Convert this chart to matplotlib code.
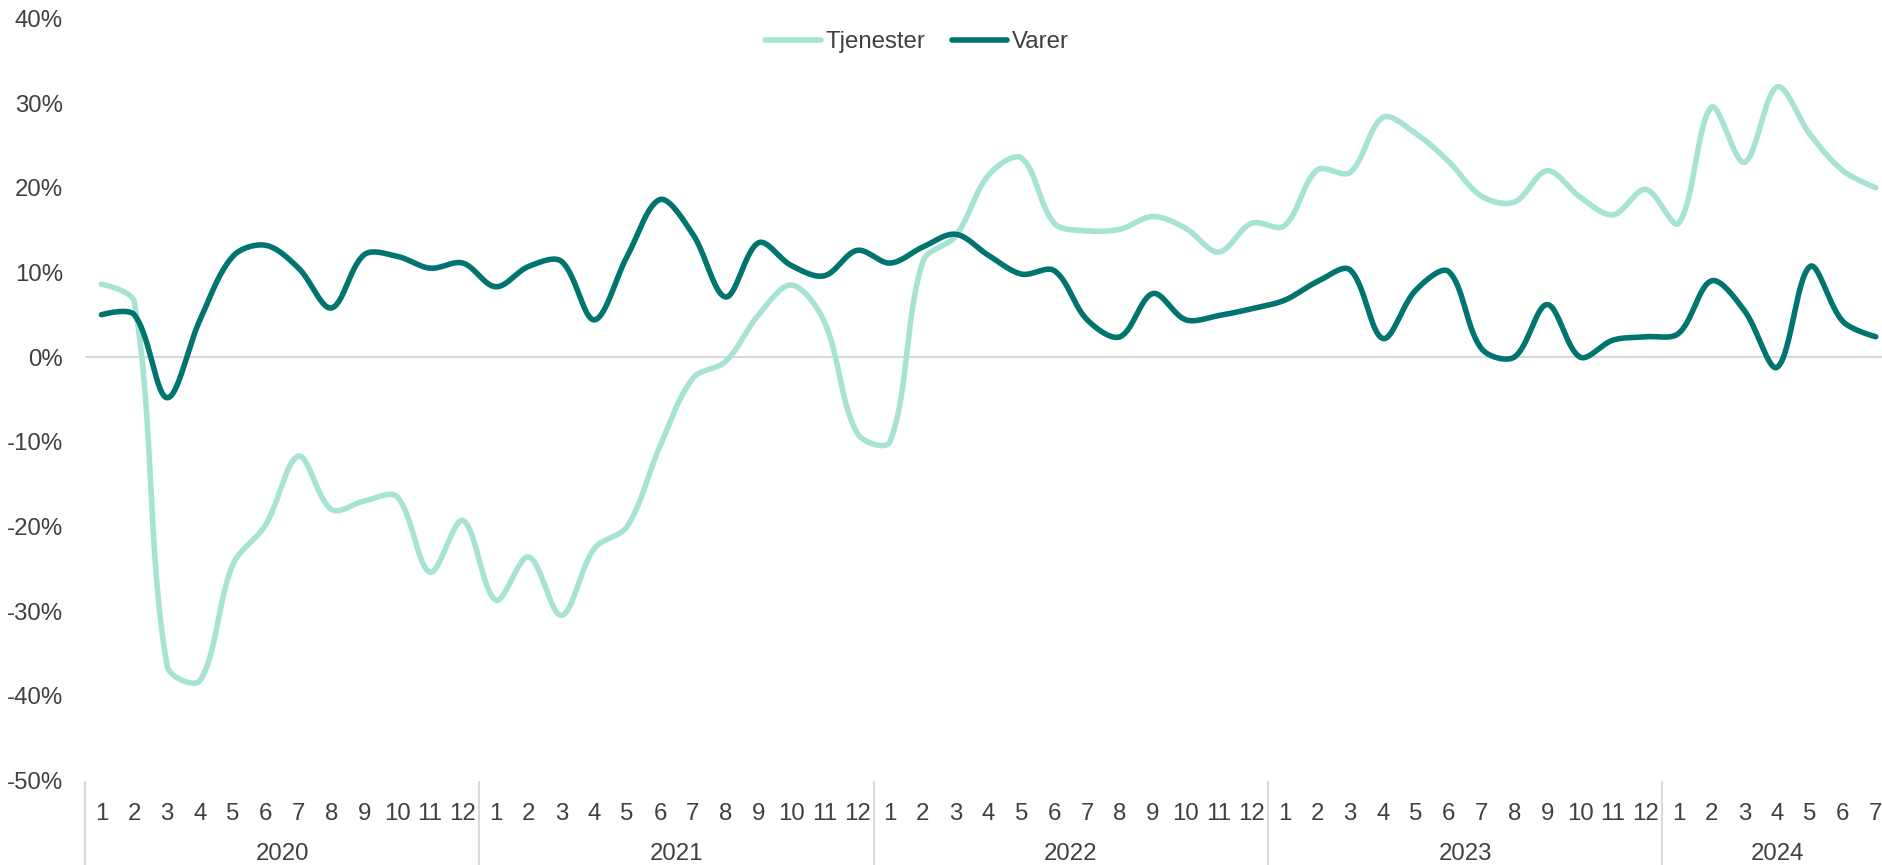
import numpy as np
import matplotlib
matplotlib.use("Agg")
import matplotlib.pyplot as plt
import matplotlib.transforms as mtransforms

plt.rcParams['font.family'] = ['Liberation Sans', 'DejaVu Sans']

# Data (% change), monthly 2020-1 .. 2024-7
years = ['2020', '2021', '2022', '2023', '2024']
months_per_year = [12, 12, 12, 12, 7]

tjenester = [8.6, 6.5, -36.5, -38.2, -24.5, -19.8, -11.7, -18.0, -17.0, -16.5, -25.4, -19.3,
             -28.7, -23.6, -30.5, -22.6, -20.0, -10.5, -2.5, -0.5, 5.0, 8.5, 4.2, -9.0,
             -10.0, 11.3, 14.3, 21.5, 23.5, 15.8, 14.9, 15.1, 16.6, 15.2, 12.4, 15.8,
             15.5, 22.1, 21.8, 28.3, 26.4, 23.1, 19.0, 18.3, 22.0, 18.9, 16.8, 19.8,
             15.8, 29.5, 23.0, 31.9, 26.3, 22.0, 20.0]
varer = [5.0, 5.0, -4.8, 4.4, 11.9, 13.2, 10.5, 5.8, 12.1, 11.9, 10.5, 11.1,
         8.3, 10.7, 11.3, 4.4, 11.9, 18.6, 14.5, 7.1, 13.5, 10.8, 9.6, 12.6,
         11.1, 13.0, 14.5, 12.0, 9.8, 10.2, 4.4, 2.4, 7.5, 4.4, 4.9, 5.7,
         6.7, 8.9, 10.3, 2.2, 7.9, 10.1, 1.0, 0.0, 6.2, 0.0, 2.0, 2.4,
         2.8, 9.0, 5.5, -1.2, 10.7, 4.2, 2.4]

month_labels = [str(m + 1) for n in months_per_year for m in range(n)]

TEXT = '#404040'
GRID = '#D9D9D9'
FS = 17.3


def smooth(y, yscale=0.258, n=30):
    # Excel-style smoothed line: bezier segments, control arms scaled by segment length
    P = np.column_stack([np.arange(len(y), dtype=float), np.asarray(y, float) * yscale])
    m = len(P)
    L = np.hypot(*np.diff(P, axis=0).T)
    fwd, bwd = P.copy(), P.copy()
    for i in range(1, m - 1):
        d = P[i + 1] - P[i - 1]
        lp, ln = L[i - 1], L[i]
        fwd[i] = P[i] + d * ln / (lp + ln) / 3
        bwd[i] = P[i] - d * lp / (lp + ln) / 3
    t = np.linspace(0, 1, n, endpoint=False)[:, None]
    pts = []
    for i in range(m - 1):
        p0, c1, c2, p3 = P[i], fwd[i], bwd[i + 1], P[i + 1]
        pts.append((1 - t) ** 3 * p0 + 3 * (1 - t) ** 2 * t * c1
                   + 3 * (1 - t) * t ** 2 * c2 + t ** 3 * p3)
    pts.append(P[-1:])
    pts = np.vstack(pts)
    return pts[:, 0], pts[:, 1] / yscale


fig = plt.figure(figsize=(18.83, 8.65), dpi=100)
ax = fig.add_axes([85 / 1883, 0.0977, 1 - 85 / 1883, 0.9788 - 0.0977])

ax.axhline(0, color=GRID, lw=1.5, zorder=1)

x1, y1 = smooth(tjenester)
x2, y2 = smooth(varer)
ax.plot(x1, y1, color='#A6E3D4', lw=4, solid_capstyle='round', label='Tjenester', zorder=2)
ax.plot(x2, y2, color='#00746F', lw=4, solid_capstyle='round', label='Varer', zorder=3)

ax.set_xlim(-0.5, 54.22)
ax.set_ylim(-50, 40)
ax.set_yticks(range(-50, 41, 10))
ax.set_yticklabels([f'{v}%' for v in range(-50, 41, 10)])
ax.tick_params(axis='y', length=0, pad=16, labelsize=FS, labelcolor=TEXT)
ax.set_xticks([])
for s in ax.spines.values():
    s.set_visible(False)

# two-level x axis: months, then years with separators
trans = mtransforms.blended_transform_factory(ax.transData, ax.transAxes)
for i, lab in enumerate(month_labels):
    ax.text(i, -0.044, lab, transform=trans, ha='center', va='center',
            fontsize=FS, color=TEXT)
start = 0
for yr, n in zip(years, months_per_year):
    ax.text(start + (n - 1) / 2, -0.097, yr, transform=trans, ha='center', va='center',
            fontsize=FS, color=TEXT)
    ax.plot([start - 0.5, start - 0.5], [-0.002, -0.12], transform=trans, color=GRID,
            lw=1.5, clip_on=False)
    start += n
ax.plot([start - 0.5, start - 0.5], [-0.002, -0.12], transform=trans, color=GRID,
        lw=1.5, clip_on=False)

fig.legend(loc='center', bbox_to_anchor=(0.487, 0.951), ncol=2, frameon=False,
           fontsize=FS, labelcolor=TEXT, handlelength=2.3, handletextpad=0.2,
           columnspacing=1.1)

fig.savefig('out.png', dpi=100)
